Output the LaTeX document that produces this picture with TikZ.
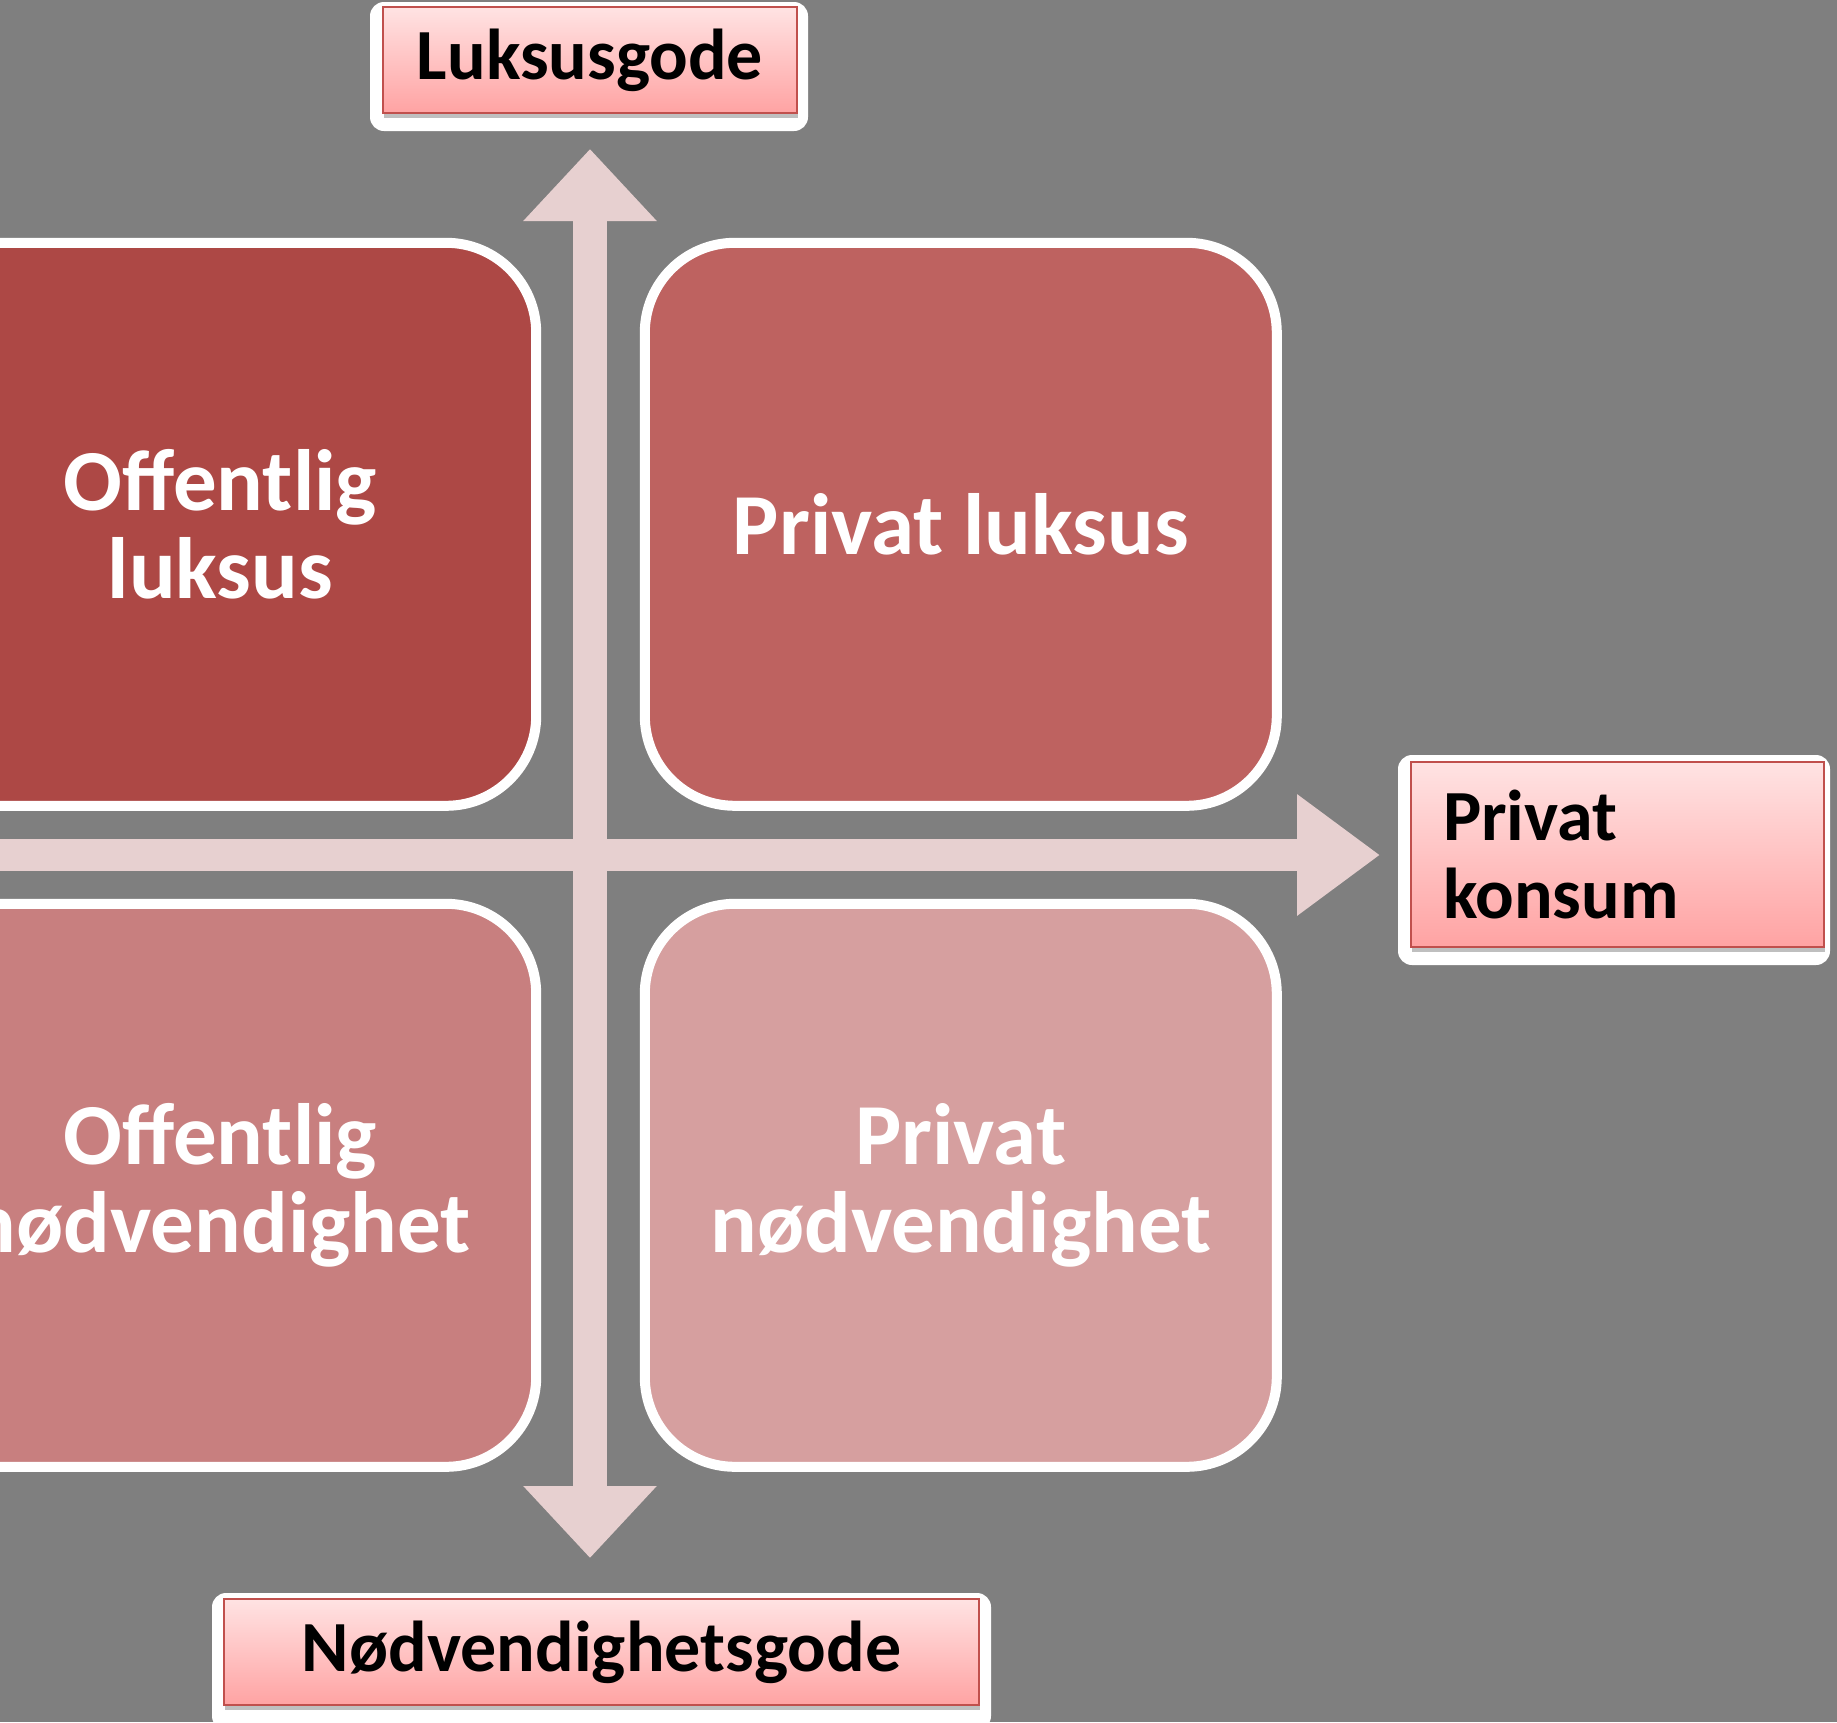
\documentclass[tikz,border=0pt]{standalone}
\usepackage{fontspec}
\setmainfont{Carlito}
\usetikzlibrary{arrows.meta,shadows}

\definecolor{bggray}{HTML}{7F7F7F}
\definecolor{luxdark}{HTML}{AD4845}
\definecolor{luxlight}{HTML}{BE6260}
\definecolor{needdark}{HTML}{C87F7F}
\definecolor{needlight}{HTML}{D69F9F}
\definecolor{axiscol}{HTML}{E7D0D0}
\definecolor{tagline}{HTML}{C0504D}
\definecolor{tagtop}{HTML}{FFE3E3}
\definecolor{tagbot}{HTML}{FFA3A3}

\begin{document}
\begin{tikzpicture}[x=1pt, y=-1pt,
	quad/.style = {draw=white, line width=10pt, rounded corners=90pt, minimum width=632pt, minimum height=563pt, text=white, align=center, font=\fontsize{87}{88}\selectfont\bfseries},
	tag/.style = {draw=tagline, line width=2.5pt, top color=tagtop, bottom color=tagbot, minimum height=106pt, inner sep=0pt, font=\fontsize{72}{78}\selectfont\bfseries, drop shadow={shadow xshift=1pt, shadow yshift=-5pt, fill=black, opacity=0.25}},
	glow/.style = {fill=white, rounded corners=14pt},
	axis/.style = {draw=axiscol, line width=34pt}]
	
	\useasboundingbox (0,0) rectangle (1837,1722);
	\clip (0,0) rectangle (1837,1722);
	\fill[bggray] (0,0) rectangle (1837,1722);
	
	% the four quadrants
	\node[quad, fill=luxdark] (offlux) at (220.2,524.3) {Offentlig\\luksus};
	\node[quad, fill=luxlight] (privlux) at (960.8,524.3) {Privat luksus};
	\node[quad, fill=needdark] (offneed) at (220.2,1185.3) {Offentlig\\nødvendighet};
	\node[quad, fill=needlight] (privneed) at (960.8,1185.3) {Privat\\nødvendighet};
	
	% axes
	\coordinate (ytop) at (590,149);
	\coordinate (ybot) at (590,1558);
	\coordinate (xleft) at (-5,855);
	\coordinate (xright) at (1380,855);
	\draw[axis, {Triangle[length=72pt,width=129pt]}-{Triangle[length=72pt,width=129pt]}] (ytop) -- (ybot);
	\draw[axis, line width=32pt, -{Triangle[length=83pt,width=116pt]}] (xleft) -- (xright);
	
	% axis labels
	\fill[glow] (370,2) rectangle (808,131);
	\fill[glow] (1398,755) rectangle (1830,965);
	\fill[glow] (212,1593) rectangle (991,1730);
	\node[tag, minimum width=414pt] (luks) at (590,60) {Luksusgode};
	\node[tag, minimum width=413pt, minimum height=185pt, text width=349pt, inner xsep=32pt, align=left] (konsum) at (1617.5,854.5) {Privat\\konsum};
	\node[tag, minimum width=755pt] (need) at (601.5,1652) {Nødvendighetsgode};
	
\end{tikzpicture}
\end{document}
